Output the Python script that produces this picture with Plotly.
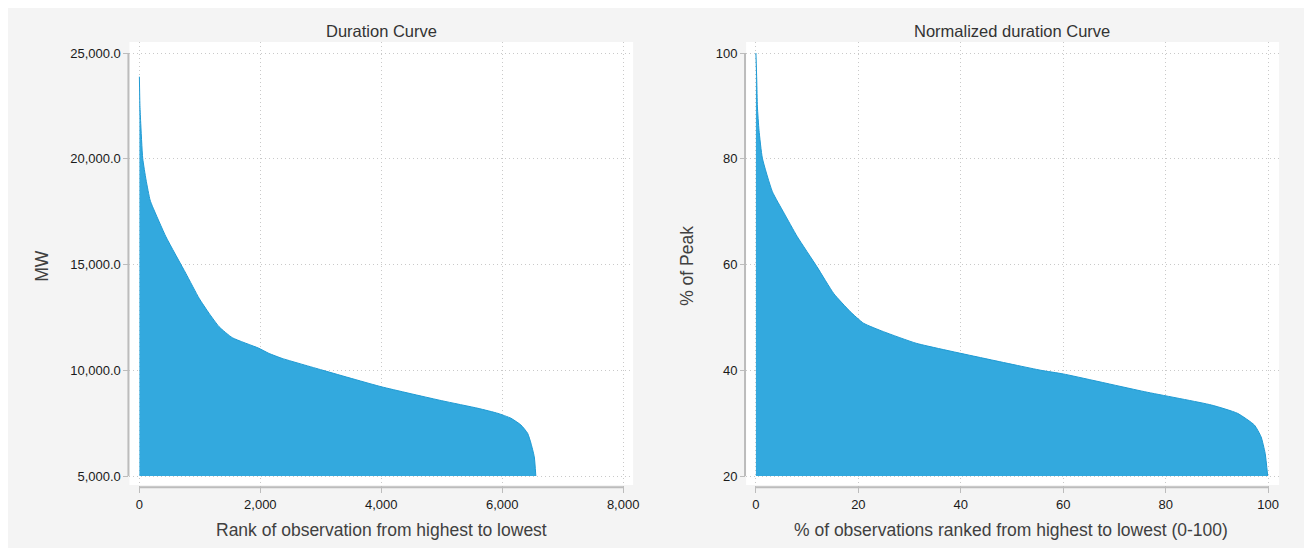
import plotly.graph_objects as go

# ---------------- data ----------------
# Left panel: Duration Curve
rank = [0, 8, 20, 55, 110, 176, 219, 439, 768, 988, 1150, 1317, 1536, 1975,
        2140, 2360, 3020, 4000, 5000, 5600, 5930, 6145, 6310, 6420, 6475, 6530, 6556]
mw = [23880, 22600, 21800, 20020, 19000, 18050, 17730, 16310, 14580, 13400, 12700,
      12060, 11540, 11040, 10800, 10560, 10010, 9220, 8560, 8200, 7960, 7730,
      7410, 7020, 6550, 5910, 5000]
mw_base = 5000

left_xticks = [0, 2000, 4000, 6000, 8000]
left_yticks = [5000, 10000, 15000, 20000, 25000]

# Right panel: Normalized duration Curve
pct_obs = [0, 0.16, 0.29, 0.6, 1.26, 3.2, 5.5, 8.05, 11.9, 15.2, 18.4, 21.0, 24.9,
           31.3, 44.3, 55.6, 60.0, 75.9, 88.9, 94.0, 97.3, 98.6, 99.4, 99.9]
pct_peak = [100, 94.9, 89.8, 85.4, 80.1, 73.8, 69.7, 65.3, 59.6, 54.5, 51.1, 48.9,
            47.3, 45.1, 42.3, 40.0, 39.3, 35.94, 33.43, 31.86, 29.64, 27.43, 24.3, 20.0]
pct_base = 20

right_xticks = [0, 20, 40, 60, 80, 100]
right_yticks = [20, 40, 60, 80, 100]

# ---------------- styling ----------------
OFF = 8                      # default page body margin
W, H = 1312 - OFF, 548 - OFF
FONT = "Liberation Sans, Arial, sans-serif"
FILL = "#33a9de"
EDGE = "#1f9ad3"
GRID = "#c9c9c9"
AXLINE = "#bcbcbc"
PANEL = "#f4f4f4"


def fx(p):
    return (p - OFF) / W


def fy(p):
    return 1 - (p - OFF) / H


fig = go.Figure()

fig.add_trace(go.Scatter(x=[rank[0], rank[-1]], y=[mw_base, mw_base], mode="lines",
                         line=dict(width=0, color=FILL), hoverinfo="skip",
                         showlegend=False, xaxis="x", yaxis="y"))
fig.add_trace(go.Scatter(x=rank, y=mw, mode="lines", fill="tonexty", fillcolor=FILL,
                         line=dict(color=EDGE, width=1, shape="spline", smoothing=0.5),
                         showlegend=False, xaxis="x", yaxis="y"))

fig.add_trace(go.Scatter(x=[pct_obs[0], pct_obs[-1]], y=[pct_base, pct_base], mode="lines",
                         line=dict(width=0, color=FILL), hoverinfo="skip",
                         showlegend=False, xaxis="x2", yaxis="y2"))
fig.add_trace(go.Scatter(x=pct_obs, y=pct_peak, mode="lines", fill="tonexty", fillcolor=FILL,
                         line=dict(color=EDGE, width=1, shape="spline", smoothing=0.5),
                         showlegend=False, xaxis="x2", yaxis="y2"))

tickfont = dict(family=FONT, size=13, color="#1a1a1a")


def axis_style(domain, rng, ticks, fmt, anchor, ticklen):
    return dict(domain=domain, range=rng, tickmode="array", tickvals=ticks, tickformat=fmt,
                showgrid=True, gridcolor=GRID, griddash="1px,3px", gridwidth=1,
                zeroline=False, showline=False, ticks="outside", ticklen=ticklen,
                tickcolor=AXLINE, tickwidth=1, tickfont=tickfont, anchor=anchor,
                fixedrange=True)


ydom = [fy(485), fy(42)]

fig.update_layout(
    width=W, height=H,
    margin=dict(l=0, r=0, t=0, b=0),
    paper_bgcolor=PANEL, plot_bgcolor="white",
    font=dict(family=FONT, color="#333333"),
    xaxis=axis_style([fx(130), fx(636)], [-164.6, 8164.6], left_xticks, ",d", "y", 7),
    yaxis=axis_style(ydom, [4574.5, 25520], left_yticks, ",.1f", "x", 5),
    xaxis2=axis_style([fx(749.5), fx(1285)], [-1.92, 102.13], right_xticks, "d", "y2", 7),
    yaxis2=axis_style(ydom, [18.30, 102.08], right_yticks, "d", "x2", 5),
)

shapes = [
    # left axis lines (span tick range only)
    dict(type="line", xref="x domain", yref="y", x0=-0.002, x1=-0.002,
         y0=left_yticks[0], y1=left_yticks[-1], line=dict(color=AXLINE, width=2)),
    dict(type="line", xref="x", yref="y domain", x0=left_xticks[0], x1=left_xticks[-1],
         y0=-0.005, y1=-0.005, line=dict(color=AXLINE, width=2)),
    # right axis lines
    dict(type="line", xref="x2 domain", yref="y2", x0=-0.002, x1=-0.002,
         y0=right_yticks[0], y1=right_yticks[-1], line=dict(color=AXLINE, width=2)),
    dict(type="line", xref="x2", yref="y2 domain", x0=right_xticks[0], x1=right_xticks[-1],
         y0=-0.005, y1=-0.005, line=dict(color=AXLINE, width=2)),
]
fig.update_layout(shapes=shapes)

ann_common = dict(xref="paper", yref="paper", showarrow=False, xanchor="center", yanchor="middle")
annotations = [
    dict(text="Duration Curve", x=fx(383), y=fy(31),
         font=dict(family=FONT, size=16.5, color="#333333"), **ann_common),
    dict(text="Normalized duration Curve", x=fx(1016.8), y=fy(31),
         font=dict(family=FONT, size=16.5, color="#333333"), **ann_common),
    dict(text="Rank of observation from highest to lowest", x=fx(383), y=fy(530),
         font=dict(family=FONT, size=17.5, color="#404040"), **ann_common),
    dict(text="% of observations ranked from highest to lowest (0-100)", x=fx(1016), y=fy(530),
         font=dict(family=FONT, size=17.5, color="#404040"), **ann_common),
    dict(text="MW", x=fx(42), y=fy(266), textangle=-90,
         font=dict(family=FONT, size=17.5, color="#404040"), **ann_common),
    dict(text="% of Peak", x=fx(690), y=fy(266), textangle=-90,
         font=dict(family=FONT, size=17.5, color="#404040"), **ann_common),
]
fig.update_layout(annotations=annotations)

fig.write_html("out.html")
